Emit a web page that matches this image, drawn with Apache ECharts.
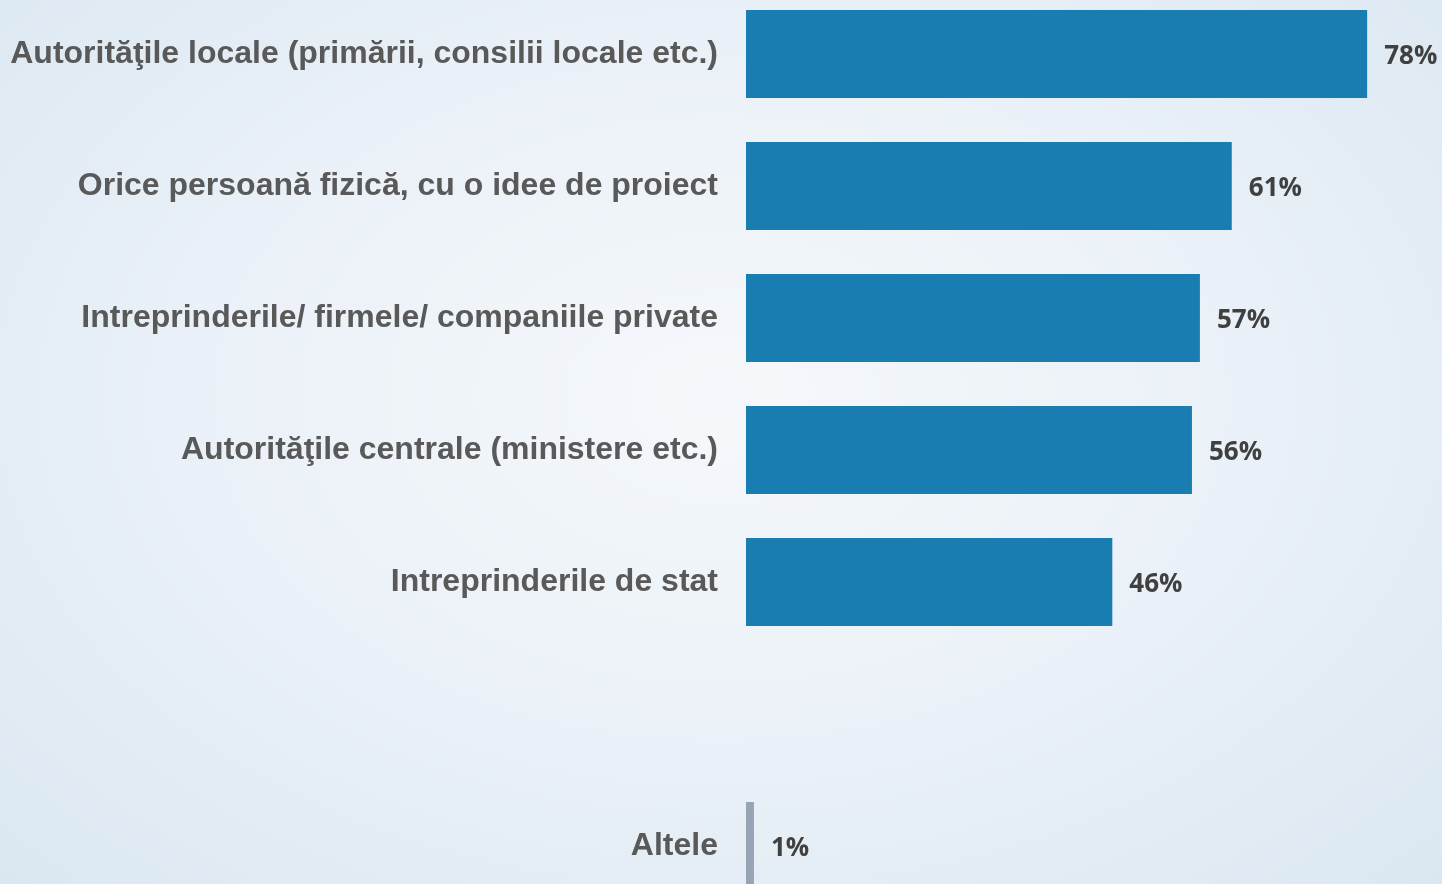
<!DOCTYPE html>
<html>
<head>
<meta charset="utf-8">
<title>ECharts</title>
<script src="https://cdn.jsdelivr.net/npm/echarts@6/dist/echarts.min.js"></script>
<style>
html, body { margin: 0; padding: 0; width: 1442px; height: 884px; overflow: hidden; }
body { background: radial-gradient(ellipse at 50% 45%, #f5f8fb 0%, #e9f0f7 55%, #dae7f1 100%); }
/* the chart is a bit taller than the window so the last bar runs off the bottom edge */
#chart { width: 1442px; height: 924px; margin-top: -12px; }
</style>
</head>
<body>
<div id="chart"></div>
<script>
// categories, top to bottom (one empty slot before "Altele")
var categories = [
    'Autorităţile locale (primării, consilii locale etc.)',
    'Orice persoană fizică, cu o idee de proiect',
    'Intreprinderile/ firmele/ companiile private',
    'Autorităţile centrale (ministere etc.)',
    'Intreprinderile de stat',
    '',
    'Altele'
];
var values = [78, 61, 57, 56, 46, null, 1];
var barColors = ['#1a7db2', '#1a7db2', '#1a7db2', '#1a7db2', '#1a7db2', '#1a7db2', '#96a4b6'];

var chart = echarts.init(document.getElementById('chart'));

chart.setOption({
    backgroundColor: 'transparent',
    animation: false,
    grid: { left: 746, right: 0, top: 0, bottom: 0, containLabel: false },
    xAxis: {
        type: 'value', min: 0, max: 87.4, show: false
    },
    yAxis: {
        type: 'category',
        inverse: true,
        data: categories,
        axisLine: { show: false },
        axisTick: { show: false },
        axisLabel: {
            margin: 28,
            padding: [4, 0, 0, 0],
            color: '#595959',
            fontFamily: 'Liberation Sans, Arial, sans-serif',
            fontWeight: 'bold',
            fontSize: 32
        }
    },
    series: [{
        type: 'bar',
        barWidth: 88,
        data: values.map(function (v, i) {
            return { value: v, itemStyle: { color: barColors[i] } };
        }),
        label: {
            show: true,
            position: 'right',
            distance: 17,
            offset: [0, 3],
            formatter: function (p) { return p.value == null ? '' : p.value + '%'; },
            color: '#404040',
            fontFamily: 'Open Sans, sans-serif',
            fontWeight: 'bold',
            fontSize: 26
        }
    }]
});
</script>
</body>
</html>
